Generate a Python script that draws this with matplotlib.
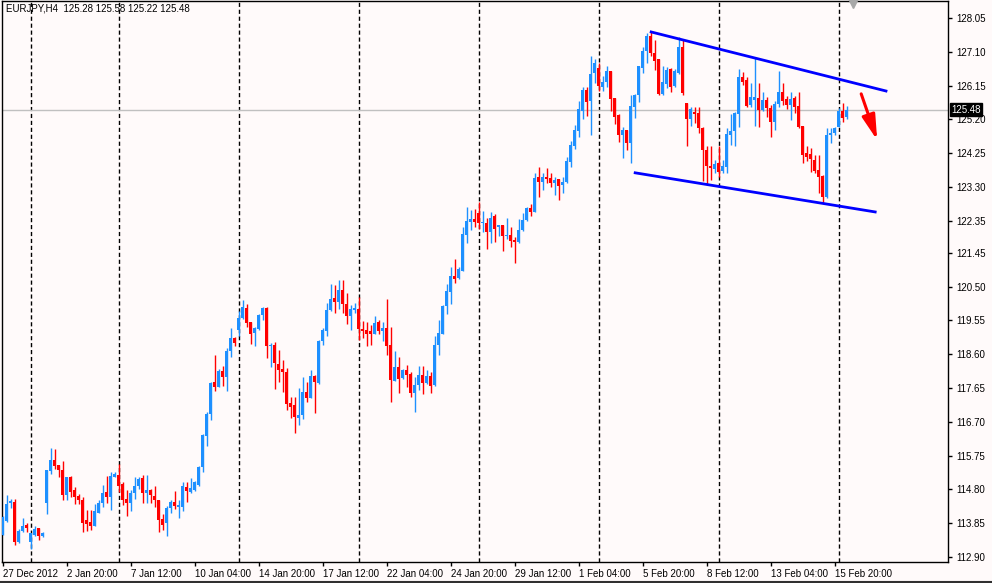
import numpy as np
import matplotlib.pyplot as plt
import matplotlib.transforms as mtransforms
from matplotlib import patheffects
from matplotlib.lines import Line2D

plt.rcParams['font.family'] = ['Liberation Sans', 'DejaVu Sans']

# EURJPY H4 bars, 27 Dec 2012 -> 15 Feb 2013
opens = [113.53, 113.92, 114.42, 114.45, 113.33, 113.62, 113.81, 113.33, 113.52, 113.72,
         113.48, 114.43, 115.33, 115.63, 115.50, 115.35, 114.65, 115.16, 114.79, 114.62,
         114.51, 113.93, 113.88, 113.78, 114.15, 114.43, 114.73, 114.60, 115.16, 115.20,
         114.96, 114.53, 114.41, 114.69, 114.90, 115.13, 114.71, 114.79, 114.62, 114.51,
         113.97, 113.86, 114.28, 114.45, 114.32, 114.32, 114.87, 114.72, 114.79, 114.93,
         115.44, 116.31, 116.91, 117.83, 117.69, 118.13, 117.97, 118.70, 119.06, 119.27,
         119.62, 119.91, 119.52, 119.21, 119.31, 119.69, 119.90, 118.82, 118.87, 118.33,
         118.19, 118.11, 117.24, 117.16, 116.82, 116.88, 117.55, 117.38, 117.99, 117.79,
         118.98, 119.26, 119.83, 120.19, 120.07, 120.41, 120.02, 119.68, 119.85, 119.88,
         119.32, 119.29, 119.24, 119.17, 119.50, 119.24, 119.35, 118.85, 117.86, 118.25,
         117.94, 118.16, 118.05, 117.51, 117.73, 118.01, 117.78, 117.99, 117.74, 118.87,
         119.17, 119.96, 120.35, 120.80, 120.73, 120.95, 121.94, 122.32, 122.41, 122.57,
         122.28, 122.29, 122.05, 122.50, 122.17, 122.24, 121.91, 121.96, 121.82, 121.76,
         122.10, 122.36, 122.71, 122.61, 123.59, 123.43, 123.59, 123.56, 123.40, 123.53,
         123.37, 123.43, 124.01, 124.46, 124.88, 125.44, 126.03, 125.73, 126.50, 126.64,
         126.12, 126.24, 126.55, 125.81, 125.33, 124.77, 124.91, 124.53, 125.56, 125.89,
         126.64, 127.13, 127.55, 127.08, 126.90, 125.92, 126.20, 126.62, 126.14, 126.52,
         127.25, 125.67, 125.21, 125.41, 125.39, 124.95, 124.35, 123.90, 123.82, 123.97,
         123.76, 123.86, 124.77, 124.88, 125.36, 126.39, 126.31, 125.61, 125.75, 125.80,
         125.47, 125.75, 125.52, 125.14, 125.64, 125.98, 125.77, 125.61, 125.79, 125.58,
         125.02, 124.27, 124.23, 124.06, 123.78, 123.61, 123.02, 124.77, 124.81, 125.00,
         125.45, 125.28]
highs = [114.06, 114.65, 114.52, 114.54, 113.69, 113.99, 113.86, 113.58, 113.76, 113.72,
         113.61, 115.35, 115.97, 115.94, 115.50, 115.59, 115.16, 115.19, 114.88, 114.68,
         114.60, 114.21, 114.23, 114.40, 114.51, 114.93, 115.19, 115.30, 115.30, 115.52,
         115.02, 114.79, 114.79, 115.16, 115.16, 115.21, 115.21, 114.82, 114.90, 114.51,
         114.12, 114.34, 114.51, 114.76, 114.51, 115.00, 115.02, 115.13, 115.04, 115.47,
         116.36, 116.98, 117.83, 118.58, 118.19, 118.27, 118.78, 119.34, 119.09, 119.82,
         120.13, 120.02, 119.52, 119.38, 119.74, 119.94, 119.92, 118.91, 118.95, 118.72,
         118.44, 118.22, 117.41, 117.41, 117.64, 117.97, 117.83, 118.16, 118.01, 119.01,
         119.33, 120.05, 120.58, 120.55, 120.69, 120.69, 120.32, 119.99, 120.05, 120.22,
         119.54, 119.52, 119.41, 119.68, 119.57, 119.52, 120.16, 119.38, 118.70, 118.51,
         118.19, 118.30, 118.11, 117.97, 118.27, 118.27, 118.15, 118.11, 119.10, 119.57,
         119.99, 120.57, 121.04, 121.27, 121.06, 122.17, 122.75, 122.66, 122.69, 122.87,
         122.63, 122.44, 122.59, 122.53, 122.24, 122.24, 122.43, 122.17, 121.89, 122.40,
         122.57, 122.75, 122.83, 123.69, 123.87, 123.69, 123.84, 123.69, 123.59, 123.53,
         123.59, 124.14, 124.60, 125.05, 125.72, 126.10, 126.10, 126.97, 126.89, 126.78,
         126.42, 126.71, 126.57, 125.81, 125.36, 125.00, 124.91, 125.89, 125.92, 126.69,
         127.25, 127.64, 127.67, 127.42, 126.90, 126.69, 126.67, 126.65, 126.61, 127.51,
         127.46, 125.67, 125.56, 125.54, 125.54, 124.98, 124.44, 124.44, 124.06, 124.44,
         124.06, 124.95, 125.36, 125.40, 126.61, 126.53, 126.39, 126.22, 126.92, 126.22,
         125.98, 125.84, 125.61, 125.73, 126.55, 126.22, 125.86, 125.98, 125.86, 125.98,
         125.02, 124.46, 124.39, 124.20, 124.20, 123.64, 124.95, 124.95, 125.00, 125.52,
         125.66, 125.58]
lows = [113.53, 113.89, 114.29, 113.25, 113.29, 113.59, 113.61, 113.13, 113.48, 113.39,
        113.46, 114.12, 115.22, 115.37, 115.16, 114.51, 114.51, 114.60, 114.40, 114.40,
        113.59, 113.62, 113.67, 113.76, 114.15, 114.32, 114.43, 114.23, 115.16, 114.73,
        114.37, 114.04, 114.18, 114.53, 114.82, 114.43, 114.43, 114.43, 114.32, 113.59,
        113.67, 113.50, 114.15, 114.25, 114.00, 114.18, 114.45, 114.71, 114.76, 114.90,
        115.28, 116.01, 116.76, 117.57, 117.67, 117.71, 117.57, 118.53, 118.82, 119.10,
        119.60, 119.38, 118.89, 118.84, 119.27, 119.57, 118.50, 118.23, 117.61, 117.83,
        117.55, 117.04, 116.82, 116.40, 116.62, 116.79, 117.27, 117.37, 116.96, 117.77,
        118.87, 119.10, 119.81, 119.76, 119.87, 119.77, 119.46, 119.29, 119.76, 119.01,
        119.07, 118.82, 118.87, 119.17, 119.17, 118.98, 118.58, 117.27, 117.86, 117.52,
        117.91, 117.68, 117.41, 116.99, 117.59, 117.48, 117.77, 117.52, 117.71, 118.58,
        119.16, 119.73, 120.02, 120.60, 120.71, 120.93, 121.74, 122.10, 122.19, 122.12,
        122.05, 121.56, 121.72, 121.76, 121.91, 121.51, 121.83, 121.61, 121.17, 121.74,
        122.07, 122.35, 122.50, 122.59, 123.03, 123.22, 123.41, 123.31, 123.08, 122.94,
        123.14, 123.41, 123.87, 124.37, 124.72, 125.22, 125.31, 124.77, 126.22, 126.00,
        126.01, 126.12, 125.45, 125.06, 124.58, 124.13, 124.35, 123.99, 125.25, 125.70,
        126.50, 126.80, 126.99, 126.59, 125.89, 125.89, 126.08, 125.98, 126.12, 126.48,
        125.88, 124.44, 125.02, 125.09, 124.83, 123.48, 123.36, 123.50, 123.69, 123.59,
        123.69, 123.69, 124.49, 124.46, 124.98, 126.17, 125.54, 125.56, 125.02, 124.98,
        125.45, 125.28, 124.72, 124.89, 125.56, 125.61, 125.49, 125.19, 125.39, 124.95,
        123.97, 124.02, 123.73, 123.69, 123.13, 122.85, 122.98, 124.53, 124.77, 124.98,
        125.14, 125.22]
closes = [114.02, 114.40, 114.47, 113.31, 113.64, 113.77, 113.72, 113.58, 113.70, 113.48,
          113.58, 115.35, 115.63, 115.47, 115.36, 114.65, 115.16, 114.73, 114.60, 114.51,
          113.87, 113.84, 113.78, 114.18, 114.43, 114.71, 114.60, 115.19, 115.24, 114.90,
          114.49, 114.41, 114.71, 114.90, 115.10, 114.71, 114.79, 114.63, 114.49, 113.95,
          113.81, 114.28, 114.45, 114.34, 114.37, 114.90, 114.76, 114.85, 115.02, 115.44,
          116.34, 116.93, 117.80, 117.69, 118.13, 117.97, 118.70, 119.06, 118.93, 119.62,
          119.93, 119.49, 119.17, 119.34, 119.71, 119.90, 118.82, 118.87, 118.34, 118.16,
          118.09, 117.19, 117.13, 116.85, 116.88, 117.55, 117.38, 117.99, 117.81, 118.96,
          119.29, 119.85, 120.16, 120.07, 120.41, 120.00, 119.68, 119.88, 119.90, 119.32,
          119.24, 119.18, 119.18, 119.48, 119.24, 119.34, 118.82, 117.88, 118.25, 117.91,
          118.15, 118.02, 117.52, 117.74, 118.01, 117.78, 117.99, 117.72, 118.87, 119.19,
          119.96, 120.38, 120.80, 120.71, 121.00, 121.98, 122.35, 122.41, 122.32, 122.28,
          122.33, 122.05, 122.43, 122.13, 122.22, 121.91, 121.96, 121.77, 121.76, 122.10,
          122.38, 122.71, 122.61, 123.56, 123.43, 123.59, 123.54, 123.40, 123.50, 123.34,
          123.44, 124.03, 124.48, 124.89, 125.50, 126.03, 125.70, 126.48, 126.78, 126.14,
          126.26, 126.55, 125.78, 125.28, 124.77, 124.91, 124.53, 125.58, 125.89, 126.69,
          127.13, 127.55, 127.06, 126.85, 125.92, 126.26, 126.59, 126.11, 126.55, 127.25,
          125.94, 125.21, 125.49, 125.36, 124.95, 124.33, 123.90, 123.83, 123.95, 123.73,
          123.90, 124.79, 124.88, 125.37, 126.39, 126.24, 125.58, 125.83, 125.83, 125.47,
          125.75, 125.52, 125.14, 125.64, 125.98, 125.73, 125.61, 125.77, 125.56, 125.00,
          124.20, 124.14, 124.08, 123.76, 123.59, 123.03, 124.77, 124.83, 124.97, 125.45,
          125.24, 125.48]

sep_bars = [7, 29, 59, 89, 119, 149, 179, 209]
date_bars = [0, 16, 32, 48, 64, 80, 96, 112, 128, 144, 160, 176, 192, 208]
date_labels = ['27 Dec 2012', '2 Jan 20:00', '7 Jan 12:00', '10 Jan 04:00', '14 Jan 20:00',
               '17 Jan 12:00', '22 Jan 04:00', '24 Jan 20:00', '29 Jan 12:00', '1 Feb 04:00',
               '5 Feb 20:00', '8 Feb 12:00', '13 Feb 04:00', '15 Feb 20:00']
price_ticks = [128.05, 127.10, 126.15, 125.20, 124.25, 123.30, 122.35, 121.45, 120.50,
               119.55, 118.60, 117.65, 116.70, 115.75, 114.80, 113.85, 112.90]
last_price = 125.48
title = 'EURJPY,H4  125.28 125.58 125.22 125.48'

# channel drawn on the chart (bar index, price)
upper_x = [162.1, 220.8]
upper_y = [127.66, 126.00]
lower_x = [158.1, 218.1]
lower_y = [123.70, 122.60]
arrow_from = (214.6, 125.92)
arrow_to = (218.6, 124.62)

bull = '#1e90ff'
bear = '#ff0000'
bg = '#fffafa'

fig = plt.figure(figsize=(9.92, 5.83), dpi=100, facecolor=bg)
ax = fig.add_axes([2 / 992, 1 - 562 / 583, 946 / 992, 561 / 583], facecolor=bg)

o = np.array(opens)
h = np.array(highs)
l = np.array(lows)
c = np.array(closes)
x = np.arange(len(o))
col = np.where(c >= o, bull, bear)

for b in sep_bars:
    ax.axvline(b, color='black', lw=1, ls=(0, (3, 2)), zorder=1)
ax.axhline(last_price, color='#c0c0c0', lw=1, zorder=1)

ax.vlines(x, l, h, colors=col, lw=1, zorder=3)
ax.bar(x, np.maximum(np.abs(c - o), 0.03), bottom=np.minimum(o, c), width=0.75,
       color=col, lw=0, zorder=3)

ax.plot(upper_x, upper_y, color='#0000ff', lw=2, zorder=4)
ax.plot(lower_x, lower_y, color='#0000ff', lw=2, zorder=4)

# red arrow with a soft drop shadow
for off, a in [((5, -4), 0.15), ((4, -3), 0.2), ((3, -2), 0.25)]:
    ax.annotate('', xy=arrow_to, xytext=arrow_from, zorder=4,
                arrowprops=dict(arrowstyle='-|>,head_length=1.5,head_width=0.4',
                                color='#404040', alpha=a, lw=3.5, shrinkA=0, shrinkB=0,
                                path_effects=[patheffects.withStroke(linewidth=5, foreground='#404040', alpha=a * 0.5)]),
                xycoords='data', textcoords='data',
                annotation_clip=False).arrow_patch.set_transform(
                    ax.transData + mtransforms.ScaledTranslation(off[0] / 100, off[1] / 100, fig.dpi_scale_trans))
ax.annotate('', xy=arrow_to, xytext=arrow_from, zorder=5,
            arrowprops=dict(arrowstyle='-|>,head_length=1.5,head_width=0.4', color='#ff0000',
                            lw=2.2, shrinkA=0, shrinkB=0))

# shift marker at the top
ax.plot([212.6], [128.47], marker='v', color='#a8a8a8', ms=7, clip_on=False, zorder=5)

ax.set_xlim(-0.175, 236.3)
ax.set_ylim(112.76, 128.53)

ax.yaxis.tick_right()
ax.set_yticks(price_ticks)
ax.set_yticklabels([f'{v:.2f}' for v in price_ticks])
ax.tick_params(axis='y', direction='out', length=3, width=1, labelsize=7, pad=3, colors='black')

ax.set_xticks(date_bars)
ax.set_xticklabels(date_labels)
for lbl in ax.get_xticklabels():
    lbl.set_ha('left')
ax.tick_params(axis='x', direction='out', length=3, width=1, labelsize=7, pad=2, colors='black')

for s in ax.spines.values():
    s.set_color('black')
    s.set_linewidth(1)

ax.text(0.0045, 0.995, title, transform=ax.transAxes, fontsize=7, va='top', ha='left')

trans = mtransforms.blended_transform_factory(ax.transAxes, ax.transData)
ax.text(1.0035, last_price, f'{last_price:.2f}', transform=trans, color='white', fontsize=7,
        va='center', ha='left', zorder=6,
        bbox=dict(boxstyle='square,pad=0.12', fc='black', ec='black'))

fig.add_artist(Line2D([0, 1], [1.5 / 583, 1.5 / 583], color='#303030', lw=1.5,
                      transform=fig.transFigure))

fig.savefig('out.png', dpi=100, facecolor=bg)
